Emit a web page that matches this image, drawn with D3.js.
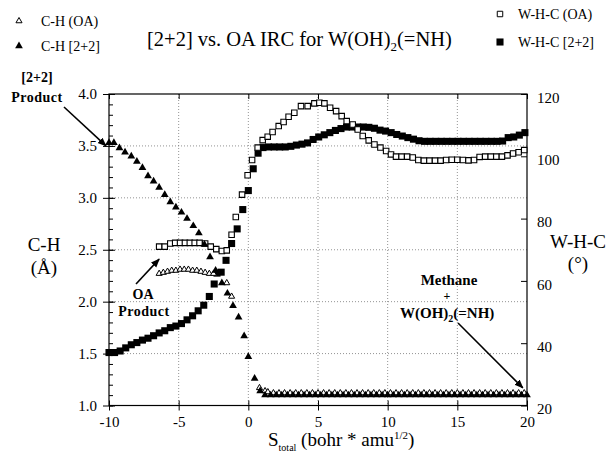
<!DOCTYPE html>
<html>
<head>
<meta charset="utf-8">
<script src="https://cdn.jsdelivr.net/npm/d3@7"></script>
<style>
html, body { margin: 0; padding: 0; background: #fff; }
svg { display: block; font-family: "Liberation Serif", "Times New Roman", serif; }
</style>
</head>
<body>
<script>
// values, as [S_total, value]
var chOA = [[-6.4,2.27],[-6.1,2.28],[-5.8,2.29],[-5.5,2.30],[-5.2,2.30],[-4.9,2.31],[-4.6,2.31],[-4.3,2.31],
  [-4.0,2.30],[-3.7,2.30],[-3.4,2.29],[-3.1,2.28],[-2.8,2.27],[-2.5,2.27],[-1.55,2.18],[-1.2,2.05],
  [0.8,1.17],[1.2,1.14],[1.4,1.13],[1.8,1.12],[2.2,1.12],[2.6,1.12],[3.0,1.12],[3.4,1.12],[3.8,1.12],
  [4.2,1.12],[4.6,1.12],[5.0,1.12],[5.4,1.12],[5.8,1.12],[6.2,1.12],[6.6,1.12],[7.0,1.12],[7.4,1.12],
  [7.8,1.12],[8.2,1.12],[8.6,1.12],[9.0,1.12],[9.4,1.12],[9.8,1.12],[10.2,1.12],[10.6,1.12],[11.0,1.12],
  [11.4,1.12],[11.8,1.12],[12.2,1.12],[12.6,1.12],[13.0,1.12],[13.4,1.12],[13.8,1.12],[14.2,1.12],
  [14.6,1.12],[15.0,1.12],[15.4,1.12],[15.8,1.12],[16.2,1.12],[16.6,1.12],[17.0,1.12],[17.4,1.12],
  [17.8,1.12],[18.2,1.12],[18.6,1.12],[19.0,1.12],[19.4,1.12],[19.8,1.12]];

var ch22 = [[-10.0,3.53],[-9.65,3.53],[-9.25,3.48],[-8.85,3.44],[-8.4,3.40],[-8.0,3.35],[-7.6,3.29],
  [-7.2,3.21],[-6.8,3.16],[-6.4,3.10],[-6.0,3.03],[-5.6,2.96],[-5.2,2.91],[-4.8,2.86],[-4.4,2.80],
  [-3.95,2.73],[-3.55,2.66],[-3.15,2.55],[-2.75,2.43],[-2.35,2.30],[-1.9,2.18],[-1.5,2.08],[-1.1,1.96],
  [-0.7,1.85],[-0.3,1.67],[0.0,1.47],[0.45,1.26],[0.85,1.14],[1.2,1.10],[1.6,1.10],[2.0,1.10],[2.4,1.10],
  [2.8,1.10],[3.2,1.10],[3.6,1.10],[4.0,1.10],[4.4,1.10],[4.8,1.10],[5.2,1.10],[5.6,1.10],[6.0,1.10],
  [6.4,1.10],[6.8,1.10],[7.2,1.10],[7.6,1.10],[8.0,1.10],[8.4,1.10],[8.8,1.10],[9.2,1.10],[9.6,1.10],
  [10.0,1.10],[10.4,1.10],[10.8,1.10],[11.2,1.10],[11.6,1.10],[12.0,1.10],[12.4,1.10],[12.8,1.10],
  [13.2,1.10],[13.6,1.10],[14.0,1.10],[14.4,1.10],[14.8,1.10],[15.2,1.10],[15.6,1.10],[16.0,1.10],
  [16.4,1.10],[16.8,1.10],[17.2,1.10],[17.6,1.10],[18.0,1.10],[18.4,1.10],[18.8,1.10],[19.2,1.10],
  [19.6,1.10],[20.0,1.10]];

var whcOA = [[-6.4,71.0],[-6.0,71.0],[-5.6,72.0],[-5.25,72.2],[-4.9,72.2],[-4.55,72.2],[-4.2,72.2],
  [-3.85,72.2],[-3.5,72.2],[-3.1,72.0],[-2.7,71.0],[-2.3,70.2],[-1.9,69.6],[-1.55,69.8],[-1.2,74.8],
  [-0.9,80.5],[-0.45,87.7],[-0.05,93.9],[0.27,98.8],[0.67,102.8],[1.03,105.2],[1.39,106.3],[1.74,107.8],
  [2.18,109.7],[2.53,111.0],[2.89,112.7],[3.3,114.0],[3.78,116.1],[4.26,116.1],[4.74,117.0],[5.1,117.2],
  [5.46,117.0],[5.87,115.6],[6.3,114.5],[6.7,112.9],[7.06,111.3],[7.49,110.2],[7.85,108.6],[8.21,106.5],
  [8.64,105.1],[9.05,103.8],[9.48,102.8],[9.89,101.7],[10.24,100.6],[10.6,99.9],[11.0,99.9],[11.4,99.9],
  [11.8,99.6],[12.2,98.8],[12.6,98.6],[13.0,98.6],[13.4,98.6],[13.8,98.6],[14.2,98.8],[14.6,98.9],
  [15.0,98.9],[15.4,98.8],[15.8,98.7],[16.2,98.8],[16.6,99.8],[17.0,99.9],[17.4,99.9],[17.8,99.9],
  [18.2,99.9],[18.6,100.3],[19.0,100.9],[19.4,101.3],[19.8,102.0]];

var whc22 = [[-10.0,37.0],[-9.6,37.0],[-9.2,37.5],[-8.8,38.5],[-8.4,39.5],[-8.0,40.2],[-7.6,41.0],
  [-7.2,41.6],[-6.8,42.4],[-6.4,43.3],[-6.0,44.0],[-5.6,45.0],[-5.2,45.5],[-4.8,46.3],[-4.4,47.5],
  [-4.0,48.8],[-3.6,50.4],[-3.2,52.2],[-2.8,55.0],[-2.45,59.0],[-2.25,62.5],[-1.95,62.8],[-1.6,66.6],
  [-1.2,72.0],[-0.8,76.7],[-0.4,82.9],[0.0,89.0],[0.35,96.0],[0.7,101.0],[1.05,102.8],[1.45,103.0],
  [1.85,103.0],[2.25,103.0],[2.65,103.0],[3.05,103.2],[3.45,103.6],[3.85,103.9],[4.25,104.3],[4.65,105.4],
  [5.05,106.2],[5.45,106.9],[5.85,107.6],[6.25,108.3],[6.65,108.9],[7.05,109.4],[7.45,109.4],[7.85,109.4],
  [8.25,109.4],[8.65,109.3],[9.05,109.0],[9.45,108.4],[9.85,108.1],[10.25,107.6],[10.65,107.0],
  [11.05,106.5],[11.45,106.0],[11.85,105.5],[12.25,105.0],[12.65,104.8],[13.05,104.8],[13.45,104.8],
  [13.85,104.8],[14.25,104.8],[14.65,104.8],[15.05,104.8],[15.45,104.8],[15.85,104.8],[16.25,104.8],
  [16.65,104.8],[17.05,104.8],[17.45,104.8],[17.85,104.8],[18.25,104.9],[18.65,106.0],[19.05,106.2],
  [19.45,106.8],[19.85,107.6]];

var xTicks = [-10, -5, 0, 5, 10, 15, 20];
var yLeftTicks = [1.0, 1.5, 2.0, 2.5, 3.0, 3.5, 4.0];
var yRightTicks = [20, 40, 60, 80, 100, 120];
var yMinorTicks = d3.range(10, 41).map(d => d / 10);

var W = 613, H = 455;
var m = {left: 109, right: 527, top: 94, bottom: 405.5};

var svg = d3.select('body').append('svg')
  .attr('width', W)
  .attr('height', H);

var x = d3.scaleLinear().domain([-10, 20]).range([m.left, m.right]);
var yL = d3.scaleLinear().domain([1, 4]).range([m.bottom, m.top]);
var yR = d3.scaleLinear().domain([20, 120]).range([m.bottom, m.top]);

svg.append('defs').append('marker')
  .attr('id', 'head')
  .attr('viewBox', '0 0 10 10')
  .attr('refX', 9).attr('refY', 5)
  .attr('markerWidth', 9).attr('markerHeight', 9)
  .attr('markerUnits', 'userSpaceOnUse')
  .attr('orient', 'auto')
  .append('path').attr('d', 'M0,1 L10,5 L0,9 Z').attr('fill', '#000');

// dotted grid
svg.append('g').selectAll('line')
  .data(yLeftTicks.slice(1, -1))
  .enter().append('line')
  .attr('x1', m.left).attr('x2', m.right)
  .attr('y1', d => yL(d)).attr('y2', d => yL(d))
  .attr('stroke', '#777').attr('stroke-width', 0.8).attr('stroke-dasharray', '1,2');

svg.append('g').selectAll('line')
  .data(xTicks.slice(1, -1))
  .enter().append('line')
  .attr('x1', d => x(d)).attr('x2', d => x(d))
  .attr('y1', m.top).attr('y2', m.bottom)
  .attr('stroke', '#777').attr('stroke-width', 0.8).attr('stroke-dasharray', '1,2');

// frame
svg.append('rect')
  .attr('x', m.left).attr('y', m.top)
  .attr('width', m.right - m.left).attr('height', m.bottom - m.top)
  .attr('fill', 'none').attr('stroke', '#000').attr('stroke-width', 1.2);

// axes
var gl = svg.append('g').attr('transform', 'translate(' + m.left + ',0)')
  .call(d3.axisLeft(yL).tickValues(yLeftTicks).tickSize(6).tickPadding(6).tickFormat(d3.format('.1f')));
gl.selectAll('.tick line').attr('x1', 6);
svg.append('g').attr('transform', 'translate(' + m.left + ',0)')
  .call(d3.axisLeft(yL).tickValues(yMinorTicks).tickSize(-4).tickFormat(''));

var gr = svg.append('g').attr('transform', 'translate(' + m.right + ',0)')
  .call(d3.axisRight(yR).tickValues(yRightTicks).tickSize(-6).tickPadding(10));
gr.selectAll('.tick text').attr('dy', '0.55em');

var gb = svg.append('g').attr('transform', 'translate(0,' + m.bottom + ')')
  .call(d3.axisBottom(x).tickValues(xTicks).tickSize(5).tickPadding(6).tickFormat(d => String(d)));
gb.selectAll('.tick line').attr('y1', -5);

svg.append('g').attr('transform', 'translate(0,' + m.top + ')')
  .call(d3.axisTop(x).tickValues(xTicks).tickSize(-5).tickFormat(''));

svg.selectAll('.domain').remove();
svg.selectAll('.tick text')
  .attr('font-family', '"Liberation Serif", serif')
  .attr('font-size', 15)
  .attr('fill', '#000');

// markers
var triBig = d3.symbol().type(d3.symbolTriangle).size(26);
var triSmall = d3.symbol().type(d3.symbolTriangle).size(16);
var sqBig = d3.symbol().type(d3.symbolSquare).size(50);
var sqSmall = d3.symbol().type(d3.symbolSquare).size(30);

svg.append('g').selectAll('path')
  .data(whc22).enter().append('path')
  .attr('d', sqBig)
  .attr('transform', d => 'translate(' + x(d[0]) + ',' + yR(d[1]) + ')')
  .attr('fill', '#000');

svg.append('g').selectAll('path')
  .data(whcOA).enter().append('path')
  .attr('d', sqSmall)
  .attr('transform', d => 'translate(' + x(d[0]) + ',' + yR(d[1]) + ')')
  .attr('fill', '#fff').attr('stroke', '#000').attr('stroke-width', 1.1);

svg.append('g').selectAll('path')
  .data(chOA).enter().append('path')
  .attr('d', triSmall)
  .attr('transform', d => 'translate(' + x(d[0]) + ',' + yL(d[1]) + ')')
  .attr('fill', '#fff').attr('stroke', '#000').attr('stroke-width', 1);

svg.append('g').selectAll('path')
  .data(ch22).enter().append('path')
  .attr('d', triBig)
  .attr('transform', d => 'translate(' + x(d[0]) + ',' + yL(d[1]) + ')')
  .attr('fill', '#000');

// legends
svg.append('path').attr('d', triSmall).attr('transform', 'translate(19,21)')
  .attr('fill', '#fff').attr('stroke', '#000');
svg.append('path').attr('d', triBig).attr('transform', 'translate(19,46)').attr('fill', '#000');
svg.append('text').attr('x', 41).attr('y', 26).attr('font-size', 14).text('C-H (OA)');
svg.append('text').attr('x', 41).attr('y', 51).attr('font-size', 14).text('C-H [2+2]');

svg.append('path').attr('d', sqSmall).attr('transform', 'translate(500,14)')
  .attr('fill', '#fff').attr('stroke', '#000');
svg.append('path').attr('d', sqBig).attr('transform', 'translate(500,42)').attr('fill', '#000');
svg.append('text').attr('x', 518).attr('y', 19).attr('font-size', 14).text('W-H-C (OA)');
svg.append('text').attr('x', 518).attr('y', 47).attr('font-size', 14).text('W-H-C [2+2]');

// title
var title = svg.append('text').attr('x', 147).attr('y', 46).attr('font-size', 20.5);
title.append('tspan').text('[2+2] vs. OA IRC for W(OH)');
title.append('tspan').attr('font-size', 13).attr('dy', 5).text('2');
title.append('tspan').attr('dy', -5).text('(=NH)');

// axis titles
svg.append('text').attr('x', 44).attr('y', 251).attr('text-anchor', 'middle').attr('font-size', 19).text('C-H');
svg.append('text').attr('x', 44).attr('y', 274).attr('text-anchor', 'middle').attr('font-size', 19).text('(Å)');
svg.append('text').attr('x', 578).attr('y', 248).attr('text-anchor', 'middle').attr('font-size', 19).text('W-H-C');
svg.append('text').attr('x', 578).attr('y', 270).attr('text-anchor', 'middle').attr('font-size', 19).text('(°)');

var xt = svg.append('text').attr('x', 268).attr('y', 446).attr('font-size', 19);
xt.append('tspan').text('S');
xt.append('tspan').attr('font-size', 10).attr('dy', 5).text('total');
xt.append('tspan').attr('dy', -5).text(' (bohr * amu');
xt.append('tspan').attr('font-size', 11).attr('dy', -7).text('1/2');
xt.append('tspan').attr('dy', 7).text(')');

// annotations
var ann = svg.append('g').attr('font-weight', 'bold').attr('font-size', 14).attr('text-anchor', 'middle');
ann.append('text').attr('x', 37).attr('y', 82).text('[2+2]');
ann.append('text').attr('x', 37).attr('y', 102).attr('letter-spacing', 0.5).text('Product');
ann.append('text').attr('x', 143).attr('y', 299).text('OA');
ann.append('text').attr('x', 144).attr('y', 316).attr('letter-spacing', 0.5).text('Product');
ann.append('text').attr('x', 449).attr('y', 285).attr('font-size', 15).text('Methane');
ann.append('text').attr('x', 447).attr('y', 300).attr('font-size', 12).text('+');
var wn = ann.append('text').attr('x', 400).attr('y', 318).attr('text-anchor', 'start').attr('font-size', 15);
wn.append('tspan').text('W(OH)');
wn.append('tspan').attr('font-size', 10).attr('dy', 4).text('2');
wn.append('tspan').attr('dy', -4).text('(=NH)');

var arrows = [
  {x1: 64, y1: 107, x2: x(-10) - 3, y2: yL(3.5)},
  {x1: 136, y1: 284, x2: x(-6.4), y2: yR(67)},
  {x1: 458, y1: 323, x2: x(19.7), y2: yL(1.17)}
];
svg.append('g').selectAll('line')
  .data(arrows).enter().append('line')
  .attr('x1', d => d.x1).attr('y1', d => d.y1)
  .attr('x2', d => d.x2).attr('y2', d => d.y2)
  .attr('stroke', '#000').attr('stroke-width', 1.6)
  .attr('marker-end', 'url(#head)');
</script>
</body>
</html>
